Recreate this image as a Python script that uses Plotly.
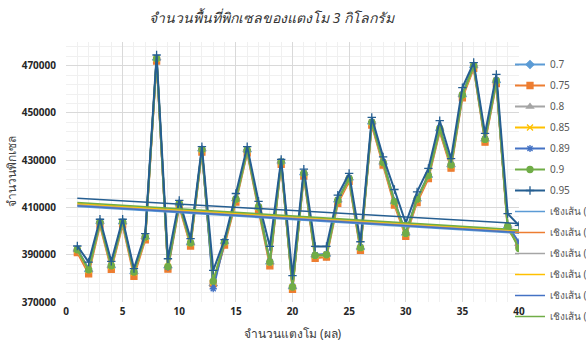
import numpy as np
import plotly.graph_objects as go

# Pixel area counts of 3 kg watermelons, one series per threshold
x_fruit = list(range(1, 41))

thresholds = ["0.7", "0.75", "0.8", "0.85", "0.89", "0.9", "0.95"]

px_070 = [391600, 383000, 403300, 384700, 403200, 382100, 396900, 472500, 384500, 411000,
          394400, 434000, 377000, 394900, 412900, 433700, 409600, 386200, 428800, 375800,
          423900, 389100, 389500, 412400, 421700, 392400, 445400, 428400, 411800, 398400,
          412800, 422900, 442700, 427300, 457000, 469300, 438200, 463000, 401500, 394000]
px_075 = [390900, 381900, 402500, 383800, 402600, 380900, 396300, 471900, 383900, 410300,
          393700, 433400, 377800, 394100, 412300, 433100, 408900, 385300, 428200, 375400,
          423300, 388500, 389000, 411700, 421000, 391800, 444800, 427900, 411000, 397800,
          412100, 422200, 442100, 426600, 456400, 468800, 437600, 462400, 400900, 394200]
px_080 = [391800, 383200, 403500, 384900, 403400, 382300, 397100, 472700, 384700, 411200,
          394600, 434200, 378000, 395100, 413100, 433900, 409800, 386400, 429000, 376000,
          424100, 389300, 389700, 412700, 421900, 392600, 445700, 428600, 412100, 398700,
          413100, 423200, 443000, 427600, 457300, 469600, 438500, 463300, 401700, 393500]
px_085 = [392000, 383400, 403700, 385100, 403600, 382500, 397300, 472900, 384900, 411400,
          394800, 434400, 378400, 395300, 413300, 434100, 410000, 386700, 429200, 376200,
          424300, 389500, 389900, 412900, 422100, 392800, 445900, 428800, 412300, 398900,
          413300, 423400, 443200, 427800, 457500, 469800, 438700, 463500, 401900, 393300]
px_089 = [392400, 384000, 404100, 385600, 404100, 383000, 397800, 473300, 384700, 411900,
          395300, 434800, 375600, 395700, 413800, 434500, 410500, 387200, 429600, 376700,
          424700, 390000, 390300, 413300, 422500, 393300, 446300, 429300, 412800, 399300,
          413800, 423800, 443600, 428300, 457900, 470200, 439100, 463900, 402300, 395300]
px_090 = [392100, 383600, 403800, 385300, 403800, 382700, 397500, 473000, 385000, 411600,
          395000, 434500, 378800, 395400, 413500, 434200, 410200, 386900, 429300, 376300,
          424400, 389700, 390000, 413000, 422200, 393000, 446000, 429000, 412500, 399000,
          413500, 423500, 443300, 428000, 457600, 469900, 438800, 463600, 402000, 392600]
px_095 = [393700, 386900, 405000, 387200, 405000, 384100, 398900, 474500, 388300, 413000,
          396800, 435700, 383400, 396400, 415900, 435700, 412600, 393500, 430300, 381200,
          426200, 393500, 393500, 415200, 424400, 395500, 448100, 431400, 417600, 403400,
          416600, 426500, 446700, 430700, 460700, 471300, 441300, 466300, 407400, 402400]

series_values = [px_070, px_075, px_080, px_085, px_089, px_090, px_095]

# Linear trend lines: value at the first and last fruit
trend_first = [410400, 411000, 411300, 411700, 410700, 412100, 413900]
trend_last = [399100, 399600, 399900, 400200, 399400, 400500, 403200]

colors = ["#5B9BD5", "#ED7D31", "#A5A5A5", "#FFC000", "#4472C4", "#70AD47", "#255E91"]
symbols = ["diamond", "square", "triangle-up", "x-thin-open", "asterisk-open",
           "circle", "cross-thin-open"]

FONT = "Noto Sans, DejaVu Sans, sans-serif"

fig = go.Figure()

for i, (name, vals) in enumerate(zip(thresholds, series_values)):
    fig.add_trace(go.Scatter(
        x=x_fruit, y=vals, mode="lines+markers", name=name,
        legendgroup=f"s{i}",
        line=dict(color=colors[i], width=2),
        marker=dict(symbol=symbols[i], size=6, color=colors[i],
                    line=dict(color=colors[i], width=1.3)),
    ))

for i, name in enumerate(thresholds):
    fig.add_trace(go.Scatter(
        x=[x_fruit[0], x_fruit[-1]], y=[trend_first[i], trend_last[i]],
        mode="lines", name=f"เชิงเส้น ({name})",
        legendgroup=f"t{i}",
        showlegend=(name != "0.95"),
        line=dict(color=colors[i], width=1.5),
    ))

fig.update_layout(
    width=586, height=342,
    margin=dict(l=66, r=67, t=42, b=40, autoexpand=False),
    paper_bgcolor="white", plot_bgcolor="white",
    font=dict(family=FONT, color="#595959"),
    title=dict(text="<i>จำนวนพื้นที่พิกเซลของแตงโม 3 กิโลกรัม</i>",
               x=271.5 / 586, xanchor="center", xref="container",
               y=1 - 18 / 342, yanchor="middle", yref="container",
               font=dict(size=14, color="#333333", family=FONT)),
    legend=dict(x=(510 - 66) / 453, xanchor="left", y=(302 - 50) / 260, yanchor="top",
                bgcolor="rgba(0,0,0,0)", tracegroupgap=2, maxheight=300,
                font=dict(size=10, color="#595959", family=FONT)),
    showlegend=True,
)

fig.update_xaxes(
    range=[0, 40], tick0=0, dtick=5,
    showgrid=True, gridcolor="#D9D9D9", gridwidth=1,
    minor=dict(dtick=1, showgrid=True, gridcolor="#F0F0F0", gridwidth=1),
    zeroline=False, showline=False, ticks="", ticklabelstandoff=2,
    tickfont=dict(size=10, color="#262626", family=FONT, weight="bold"),
    title=dict(text="จำนวนแตงโม (ผล)", standoff=14,
               font=dict(size=12, color="#404040", family=FONT)),
)
fig.update_yaxes(
    range=[370000, 480000], tick0=370000, dtick=20000, tickformat="d",
    showgrid=True, gridcolor="#D9D9D9", gridwidth=1,
    minor=dict(dtick=4000, tick0=370000, showgrid=True, gridcolor="#F0F0F0", gridwidth=1),
    zeroline=False, showline=False, ticks="", ticklabelstandoff=9,
    tickfont=dict(size=10, color="#262626", family=FONT, weight="bold"),
    title=dict(text="จำนวนพิกเซล", standoff=2,
               font=dict(size=12, color="#404040", family=FONT)),
)

fig.write_html("out.html")
